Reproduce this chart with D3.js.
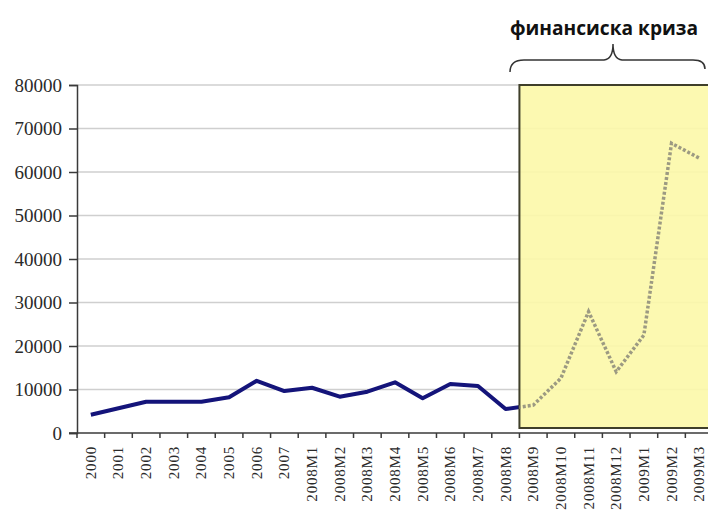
<!DOCTYPE html>
<html>
<head>
<meta charset="utf-8">
<script src="https://cdn.jsdelivr.net/npm/d3@7"></script>
<style>
  html, body { margin: 0; padding: 0; background: #fff; }
  svg { display: block; }
</style>
</head>
<body>
<div id="chart"></div>
<script>
// categories along the x axis
var categories = ["2000", "2001", "2002", "2003", "2004", "2005", "2006", "2007",
    "2008M1", "2008M2", "2008M3", "2008M4", "2008M5", "2008M6", "2008M7", "2008M8",
    "2008M9", "2008M10", "2008M11", "2008M12", "2009M1", "2009M2", "2009M3"];
// series values
var values = [4200, 5700, 7200, 7200, 7200, 8200, 12000, 9650,
    10400, 8350, 9500, 11650, 8000, 11250, 10800, 5500,
    6400, 12600, 27900, 14100, 22500, 66600, 63200];
var yTicks = [0, 10000, 20000, 30000, 40000, 50000, 60000, 70000, 80000];
var crisisStart = "2008M9";
var crisisLabel = "финансиска криза";

var width = 708, height = 519;
var plotLeft = 77, plotRight = 713, plotTop = 85, plotBottom = 433;

var svg = d3.select("#chart").append("svg")
    .attr("width", width)
    .attr("height", height);

var x = d3.scaleBand().domain(categories).range([plotLeft, plotRight]).padding(0);
var y = d3.scaleLinear().domain([0, 80000]).range([plotBottom, plotTop]);

// gridlines
svg.append("g").selectAll("line")
    .data(yTicks.filter(function(d) { return d > 0; }))
    .enter().append("line")
    .attr("x1", plotLeft).attr("x2", width)
    .attr("y1", function(d) { return y(d); })
    .attr("y2", function(d) { return y(d); })
    .attr("stroke", "#cfcfcf")
    .attr("stroke-width", 1.5);

var boxX = x(crisisStart);

var lineFunc = d3.line()
    .x(function(d, i) { return x(categories[i]) + x.bandwidth() / 2; })
    .y(function(d) { return y(d); });

var defs = svg.append("defs");
defs.append("clipPath").attr("id", "before")
    .append("rect").attr("x", 0).attr("y", 0).attr("width", boxX).attr("height", height);
defs.append("clipPath").attr("id", "after")
    .append("rect").attr("x", boxX).attr("y", 0).attr("width", width - boxX).attr("height", height);

// solid blue part
svg.append("path")
    .attr("d", lineFunc(values))
    .attr("clip-path", "url(#before)")
    .attr("fill", "none")
    .attr("stroke", "#14147a")
    .attr("stroke-width", 4)
    .attr("stroke-linejoin", "round");

// crisis box
svg.append("rect")
    .attr("x", boxX)
    .attr("y", plotTop)
    .attr("width", width - boxX + 10)
    .attr("height", plotBottom - 5 - plotTop)
    .attr("fill", "#fcf8a8")
    .attr("fill-opacity", 0.9)
    .attr("stroke", "#3f3f2a")
    .attr("stroke-width", 2);

// dashed part inside the box
svg.append("path")
    .attr("d", lineFunc(values))
    .attr("clip-path", "url(#after)")
    .attr("fill", "none")
    .attr("stroke", "#9c9a82")
    .attr("stroke-width", 3.5)
    .attr("stroke-dasharray", "3,2");

// y axis
var yAxis = d3.axisLeft(y)
    .tickValues(yTicks)
    .tickSize(8)
    .tickPadding(7)
    .tickFormat(d3.format("d"));
var gy = svg.append("g")
    .attr("transform", "translate(" + plotLeft + ",0)")
    .call(yAxis);
gy.select(".domain").attr("stroke", "#3a3a3a").attr("stroke-width", 1.5);
gy.selectAll(".tick line").attr("stroke", "#3a3a3a").attr("stroke-width", 1.5);
gy.selectAll(".tick text")
    .attr("font-family", "'Liberation Serif', serif")
    .attr("font-size", "19px")
    .attr("fill", "#2a2a2a");

// x axis line and tick marks at band boundaries
svg.append("line")
    .attr("x1", plotLeft - 8).attr("x2", width)
    .attr("y1", plotBottom).attr("y2", plotBottom)
    .attr("stroke", "#3a3a3a").attr("stroke-width", 1.5);
svg.append("g").selectAll("line")
    .data(categories)
    .enter().append("line")
    .attr("x1", function(d) { return x(d); })
    .attr("x2", function(d) { return x(d); })
    .attr("y1", plotBottom).attr("y2", plotBottom + 5)
    .attr("stroke", "#3a3a3a").attr("stroke-width", 1.5);

// x labels, rotated
svg.append("g").selectAll("text")
    .data(categories)
    .enter().append("text")
    .attr("transform", function(d) {
        return "translate(" + (x(d) + x.bandwidth() / 2) + "," + (plotBottom + 13) + ") rotate(-90)";
    })
    .attr("text-anchor", "end")
    .attr("dominant-baseline", "central")
    .attr("font-family", "'Liberation Serif', serif")
    .attr("font-size", "15px")
    .attr("letter-spacing", "0.8px")
    .attr("fill", "#2a2a2a")
    .text(function(d) { return d; });

// brace above the box
var braceL = 510, braceR = 705, braceMid = 613, braceY = 60;
var brace = "M" + braceL + "," + (braceY + 12)
    + " Q" + braceL + "," + braceY + " " + (braceL + 14) + "," + braceY
    + " L" + (braceMid - 9) + "," + braceY
    + " Q" + braceMid + "," + (braceY - 1) + " " + braceMid + "," + (braceY - 16)
    + " Q" + braceMid + "," + (braceY - 1) + " " + (braceMid + 9) + "," + braceY
    + " L" + (braceR - 12) + "," + braceY
    + " Q" + braceR + "," + braceY + " " + braceR + "," + (braceY + 9);
svg.append("path")
    .attr("d", brace)
    .attr("fill", "none")
    .attr("stroke", "#333")
    .attr("stroke-width", 1.5);

svg.append("text")
    .attr("x", 510)
    .attr("y", 35)
    .attr("textLength", 188)
    .attr("lengthAdjust", "spacingAndGlyphs")
    .attr("font-family", "'Open Sans', sans-serif")
    .attr("font-weight", "bold")
    .attr("font-size", "20px")
    .attr("fill", "#111")
    .text(crisisLabel);
</script>
</body>
</html>
